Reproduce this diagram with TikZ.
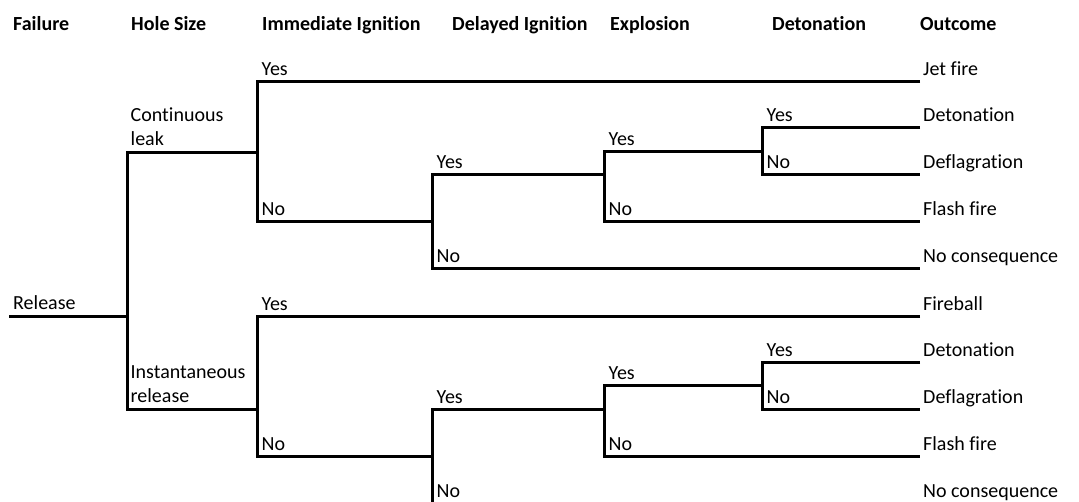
\documentclass[tikz,border=0pt]{standalone}
\usepackage{fontspec}
\setmainfont{Carlito}[Ligatures=NoCommon]
\newcommand\treetextstyle{\fontsize{20}{24}\selectfont}
\newcommand\treeheadstyle{\fontsize{20}{24}\selectfont\bfseries}
\newcommand\treefork[3]{
  \draw[treeline] (#2) -- (#1-yes) -- (#1-no) -- (#3) ;
}
\begin{document}
\begin{tikzpicture}[x=1pt, y=-1pt,
    treeline/.style={line width=3pt, line join=miter},
    headtext/.style={anchor=base west, inner sep=0pt, font=\treeheadstyle},
    treetext/.style={anchor=base west, inner sep=0pt, font=\treetextstyle, xshift=4.5pt, yshift=6pt},
    outtext/.style={anchor=base west, inner sep=0pt, font=\treetextstyle, xshift=3pt, yshift=6pt}]
    \useasboundingbox (0,0) rectangle (1079,501) ;
    \clip (0,0) rectangle (1079,501) ;
    % column headings
    \node[headtext] (h-fail) at (13,30) {Failure} ;
    \node[headtext] (h-hole) at (131,30) {Hole Size} ;
    \node[headtext] (h-imm) at (262,30) {Immediate Ignition} ;
    \node[headtext] (h-del) at (452,30) {Delayed Ignition} ;
    \node[headtext] (h-exp) at (610,30) {Explosion} ;
    \node[headtext] (h-det) at (772,30) {Detonation} ;
    \node[headtext] (h-out) at (920,30) {Outcome} ;
    % forks: entry point, top end (yes), bottom end (no)
    \coordinate (rel) at (9,316) ;
    \coordinate (hs) at (127,316) ; \coordinate (hs-yes) at (127,152) ; \coordinate (hs-no) at (127,409) ;
    \coordinate (ii1) at (257,152) ; \coordinate (ii1-yes) at (257,81) ; \coordinate (ii1-no) at (257,221) ;
    \coordinate (ii2) at (257,409) ; \coordinate (ii2-yes) at (257,316) ; \coordinate (ii2-no) at (257,456) ;
    \coordinate (di1) at (432,221) ; \coordinate (di1-yes) at (432,174) ; \coordinate (di1-no) at (432,268) ;
    \coordinate (di2) at (432,456) ; \coordinate (di2-yes) at (432,409) ; \coordinate (di2-no) at (432,503) ;
    \coordinate (ex1) at (604,174) ; \coordinate (ex1-yes) at (604,151) ; \coordinate (ex1-no) at (604,221) ;
    \coordinate (ex2) at (604,409) ; \coordinate (ex2-yes) at (604,385) ; \coordinate (ex2-no) at (604,456) ;
    \coordinate (dt1) at (762,151) ; \coordinate (dt1-yes) at (762,127) ; \coordinate (dt1-no) at (762,174) ;
    \coordinate (dt2) at (762,385) ; \coordinate (dt2-yes) at (762,362) ; \coordinate (dt2-no) at (762,409) ;
    % outcome ends
    \coordinate (jet) at (920,81) ;
    \coordinate (det1) at (920,127) ;
    \coordinate (def1) at (920,174) ;
    \coordinate (flash1) at (920,221) ;
    \coordinate (none1) at (920,268) ;
    \coordinate (fireball) at (920,316) ;
    \coordinate (det2) at (920,362) ;
    \coordinate (def2) at (920,409) ;
    \coordinate (flash2) at (920,456) ;
    \coordinate (none2) at (920,503) ;
    % branches
    \draw[treeline] (rel) -- (hs) ;
    \treefork{hs}{ii1}{ii2}
    \treefork{ii1}{jet}{di1}
    \treefork{di1}{ex1}{none1}
    \treefork{ex1}{dt1}{flash1}
    \treefork{dt1}{det1}{def1}
    \treefork{ii2}{fireball}{di2}
    \treefork{di2}{ex2}{none2}
    \treefork{ex2}{dt2}{flash2}
    \treefork{dt2}{det2}{def2}
    % branch labels
    \node[treetext, xshift=-0.5pt, yshift=1pt] (t-rel) at (rel) {Release} ;
    \node[treetext, anchor=south west, align=left, xshift=-1pt] (t-cont) at (hs-yes) {Continuous\\leak} ;
    \node[treetext, anchor=south west, align=left, xshift=-1pt] (t-inst) at (hs-no) {Instantaneous\\release} ;
    \foreach \f in {ii1, ii2, di1, di2, ex1, ex2, dt1, dt2} {
      \node[treetext] (t-\f-yes) at (\f-yes) {Yes} ;
      \node[treetext] (t-\f-no) at (\f-no) {No} ;
    }
    % outcomes
    \node[outtext] (t-jet) at (jet) {Jet fire} ;
    \node[outtext] (t-det1) at (det1) {Detonation} ;
    \node[outtext] (t-def1) at (def1) {Deflagration} ;
    \node[outtext] (t-flash1) at (flash1) {Flash fire} ;
    \node[outtext] (t-none1) at (none1) {No consequence} ;
    \node[outtext] (t-fireball) at (fireball) {Fireball} ;
    \node[outtext] (t-det2) at (det2) {Detonation} ;
    \node[outtext] (t-def2) at (def2) {Deflagration} ;
    \node[outtext] (t-flash2) at (flash2) {Flash fire} ;
    \node[outtext] (t-none2) at (none2) {No consequence} ;
  \end{tikzpicture}
\end{document}
